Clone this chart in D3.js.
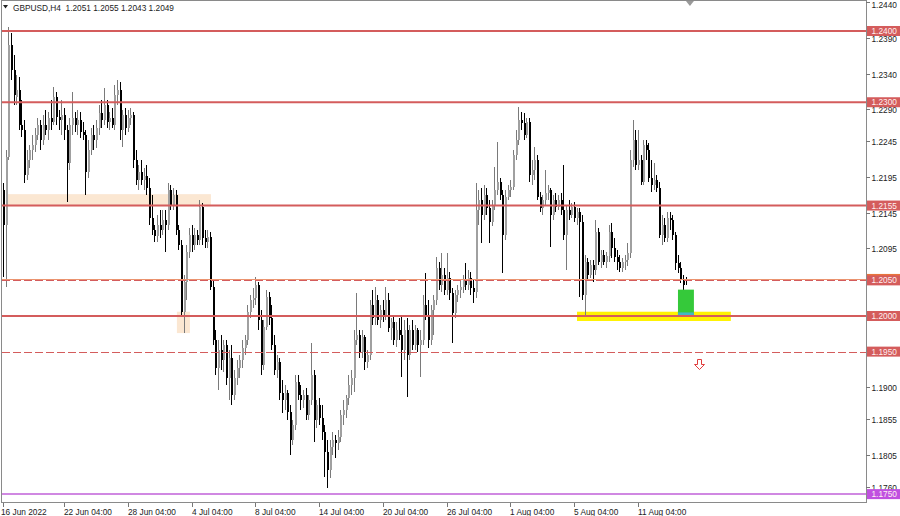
<!DOCTYPE html>
<html><head><meta charset="utf-8">
<script src="https://cdn.jsdelivr.net/npm/d3@7"></script>
<style>body{margin:0;background:#fff}svg{display:block}text{font-family:"Liberation Sans",Arial,sans-serif}</style>
</head><body><svg id="c" width="900" height="516"></svg>
<script>
const symbol = "GBPUSD,H4";
// H4 candles [open, high, low, close]
const ohlc = [
[1.2177,1.2187,1.2055,1.2128],[1.2128,1.2233,1.2041,1.2223],[1.2223,1.2406,1.2219,1.2380],[1.2380,1.2397,1.2331,1.2345],
[1.2345,1.2366,1.2296,1.2310],[1.2307,1.2338,1.2296,1.2317],[1.2317,1.2335,1.2261,1.2268],[1.2268,1.2303,1.2251,1.2261],
[1.2261,1.2275,1.2187,1.2198],[1.2198,1.2233,1.2191,1.2219],[1.2219,1.2240,1.2208,1.2233],[1.2233,1.2254,1.2219,1.2240],
[1.2240,1.2264,1.2230,1.2254],[1.2254,1.2278,1.2247,1.2268],[1.2268,1.2275,1.2233,1.2247],[1.2247,1.2282,1.2240,1.2268],
[1.2268,1.2289,1.2254,1.2261],[1.2261,1.2286,1.2247,1.2278],[1.2278,1.2303,1.2261,1.2272],[1.2272,1.2321,1.2268,1.2307],
[1.2307,1.2314,1.2268,1.2279],[1.2279,1.2289,1.2261,1.2275],[1.2275,1.2303,1.2254,1.2282],[1.2282,1.2292,1.2247,1.2261],
[1.2261,1.2268,1.2160,1.2215],[1.2215,1.2278,1.2205,1.2268],[1.2268,1.2314,1.2254,1.2278],[1.2278,1.2286,1.2258,1.2268],
[1.2268,1.2289,1.2254,1.2275],[1.2275,1.2286,1.2250,1.2258],[1.2258,1.2272,1.2247,1.2254],[1.2254,1.2261,1.2170,1.2202],
[1.2202,1.2247,1.2194,1.2233],[1.2233,1.2264,1.2226,1.2254],[1.2254,1.2268,1.2233,1.2247],[1.2247,1.2275,1.2236,1.2264],
[1.2264,1.2296,1.2254,1.2285],[1.2285,1.2303,1.2264,1.2275],[1.2275,1.2320,1.2268,1.2296],[1.2296,1.2303,1.2264,1.2272],
[1.2272,1.2286,1.2261,1.2278],[1.2278,1.2292,1.2264,1.2268],[1.2268,1.2324,1.2261,1.2310],[1.2310,1.2331,1.2296,1.2317],
[1.2317,1.2328,1.2247,1.2261],[1.2261,1.2289,1.2237,1.2282],[1.2282,1.2292,1.2254,1.2264],[1.2264,1.2289,1.2258,1.2278],
[1.2278,1.2292,1.2268,1.2282],[1.2282,1.2286,1.2208,1.2219],[1.2219,1.2233,1.2184,1.2191],[1.2191,1.2212,1.2177,1.2202],
[1.2202,1.2219,1.2184,1.2191],[1.2191,1.2208,1.2177,1.2197],[1.2197,1.2212,1.2170,1.2180],[1.2180,1.2194,1.2128,1.2138],
[1.2138,1.2170,1.2114,1.2121],[1.2121,1.2128,1.2104,1.2112],[1.2112,1.2142,1.2104,1.2128],[1.2128,1.2149,1.2110,1.2121],
[1.2121,1.2149,1.2114,1.2135],[1.2135,1.2149,1.2090,1.2128],[1.2128,1.2187,1.2121,1.2177],[1.2177,1.2184,1.2149,1.2156],
[1.2156,1.2180,1.2149,1.2170],[1.2170,1.2177,1.2114,1.2121],[1.2121,1.2128,1.2093,1.2100],[1.2100,1.2107,1.2001,1.2006],
[1.2006,1.2058,1.1976,1.2048],[1.2048,1.2100,1.2022,1.2090],[1.2090,1.2124,1.2081,1.2114],[1.2114,1.2128,1.2090,1.2100],
[1.2100,1.2124,1.2093,1.2114],[1.2114,1.2121,1.2100,1.2107],[1.2107,1.2163,1.2100,1.2153],[1.2153,1.2159,1.2100,1.2110],
[1.2110,1.2121,1.2095,1.2104],[1.2104,1.2121,1.2095,1.2111],[1.2111,1.2118,1.2036,1.2041],[1.2041,1.2050,1.1959,1.1966],
[1.1966,1.1980,1.1917,1.1927],[1.1927,1.1966,1.1896,1.1952],[1.1952,1.1973,1.1924,1.1938],[1.1938,1.1966,1.1921,1.1959],
[1.1959,1.1966,1.1903,1.1913],[1.1913,1.1952,1.1882,1.1941],[1.1941,1.1959,1.1875,1.1889],[1.1889,1.1924,1.1882,1.1913],
[1.1913,1.1938,1.1903,1.1927],[1.1927,1.1945,1.1913,1.1938],[1.1938,1.1966,1.1927,1.1955],[1.1955,1.1973,1.1945,1.1966],
[1.1966,1.2015,1.1959,1.2006],[1.2006,1.2030,1.1997,1.2022],[1.2022,1.2039,1.2011,1.2025],[1.2025,1.2055,1.2015,1.2044],
[1.2044,1.2048,1.1980,1.1994],[1.1994,1.2008,1.1917,1.1931],[1.1931,1.1994,1.1924,1.1985],[1.1985,1.2036,1.1980,1.2027],
[1.2027,1.2034,1.1987,1.1997],[1.1997,1.2015,1.1952,1.1959],[1.1959,1.1973,1.1917,1.1924],[1.1924,1.1945,1.1913,1.1935],
[1.1935,1.1941,1.1882,1.1892],[1.1892,1.1910,1.1864,1.1882],[1.1882,1.1903,1.1868,1.1892],[1.1892,1.1896,1.1854,1.1865],
[1.1865,1.1875,1.1805,1.1826],[1.1826,1.1854,1.1819,1.1847],[1.1847,1.1917,1.1840,1.1907],[1.1907,1.1917,1.1882,1.1889],
[1.1889,1.1903,1.1868,1.1882],[1.1882,1.1896,1.1871,1.1889],[1.1889,1.1899,1.1854,1.1861],[1.1861,1.1889,1.1854,1.1882],
[1.1882,1.1962,1.1875,1.1917],[1.1917,1.1924,1.1823,1.1854],[1.1854,1.1882,1.1843,1.1875],[1.1875,1.1885,1.1847,1.1857],
[1.1857,1.1875,1.1826,1.1837],[1.1837,1.1847,1.1774,1.1809],[1.1809,1.1826,1.1759,1.1784],[1.1784,1.1826,1.1773,1.1816],
[1.1816,1.1837,1.1805,1.1826],[1.1826,1.1833,1.1801,1.1822],[1.1822,1.1840,1.1812,1.1830],[1.1830,1.1868,1.1823,1.1861],
[1.1861,1.1882,1.1847,1.1868],[1.1868,1.1889,1.1857,1.1885],[1.1885,1.1917,1.1875,1.1903],[1.1903,1.1924,1.1889,1.1913],
[1.1913,1.1980,1.1893,1.1966],[1.1966,1.2032,1.1959,1.1973],[1.1973,1.1980,1.1941,1.1950],[1.1950,1.1980,1.1941,1.1970],
[1.1970,1.1973,1.1924,1.1935],[1.1935,1.1952,1.1927,1.1945],[1.1945,1.2022,1.1938,1.2015],[1.2015,1.2036,1.1987,1.1997],
[1.1997,1.2041,1.1987,1.2022],[1.2022,1.2030,1.1987,1.1994],[1.1994,1.2015,1.1983,1.2008],[1.2008,1.2022,1.1992,1.2001],
[1.2001,1.2041,1.1994,1.2022],[1.2022,1.2032,1.1978,1.1983],[1.1983,1.1997,1.1966,1.1992],[1.1992,1.2001,1.1959,1.1966],
[1.1966,1.1992,1.1956,1.1980],[1.1980,1.1997,1.1966,1.1973],[1.1973,1.1999,1.1914,1.1952],[1.1952,1.1994,1.1938,1.1980],
[1.1980,1.1997,1.1886,1.1945],[1.1945,1.1987,1.1938,1.1980],[1.1980,1.1994,1.1952,1.1959],[1.1959,1.1987,1.1952,1.1980],
[1.1980,1.1983,1.1950,1.1959],[1.1959,1.1980,1.1914,1.1966],[1.1966,1.2030,1.1959,1.2015],[1.2015,1.2060,1.1994,1.2001],
[1.2001,1.2022,1.1955,1.1966],[1.1966,1.2015,1.1959,1.2008],[1.2008,1.2030,1.1973,1.2022],[1.2022,1.2083,1.2015,1.2067],
[1.2067,1.2076,1.2036,1.2044],[1.2044,1.2088,1.2034,1.2058],[1.2058,1.2067,1.2030,1.2036],[1.2036,1.2088,1.2030,1.2053],
[1.2053,1.2062,1.2022,1.2032],[1.2032,1.2039,1.1962,1.2004],[1.2004,1.2036,1.1997,1.2030],[1.2030,1.2044,1.2020,1.2036],
[1.2036,1.2050,1.2025,1.2041],[1.2041,1.2058,1.2032,1.2050],[1.2050,1.2074,1.2036,1.2044],[1.2044,1.2065,1.2036,1.2053],
[1.2053,1.2062,1.2030,1.2039],[1.2039,1.2050,1.2018,1.2034],[1.2034,1.2187,1.2025,1.2149],[1.2149,1.2177,1.2128,1.2163],
[1.2163,1.2180,1.2102,1.2142],[1.2142,1.2184,1.2135,1.2170],[1.2170,1.2180,1.2142,1.2152],[1.2152,1.2163,1.2102,1.2132],
[1.2132,1.2163,1.2126,1.2156],[1.2156,1.2209,1.2149,1.2177],[1.2177,1.2244,1.2170,1.2188],[1.2188,1.2194,1.2163,1.2170],
[1.2170,1.2177,1.2060,1.2114],[1.2114,1.2177,1.2107,1.2167],[1.2167,1.2184,1.2163,1.2177],[1.2177,1.2191,1.2167,1.2181],
[1.2181,1.2233,1.2177,1.2226],[1.2226,1.2261,1.2219,1.2247],[1.2247,1.2293,1.2240,1.2275],[1.2275,1.2286,1.2261,1.2271],
[1.2271,1.2285,1.2247,1.2254],[1.2254,1.2278,1.2250,1.2272],[1.2272,1.2278,1.2188,1.2198],[1.2198,1.2219,1.2184,1.2205],
[1.2205,1.2237,1.2191,1.2219],[1.2219,1.2226,1.2163,1.2167],[1.2167,1.2174,1.2146,1.2152],[1.2152,1.2170,1.2142,1.2163],
[1.2163,1.2205,1.2156,1.2173],[1.2173,1.2184,1.2163,1.2177],[1.2177,1.2180,1.2097,1.2142],[1.2142,1.2170,1.2135,1.2163],
[1.2163,1.2173,1.2146,1.2153],[1.2153,1.2170,1.2149,1.2163],[1.2163,1.2173,1.2142,1.2149],[1.2149,1.2212,1.2107,1.2114],
[1.2114,1.2156,1.2065,1.2149],[1.2149,1.2163,1.2135,1.2142],[1.2142,1.2159,1.2138,1.2153],[1.2153,1.2160,1.2132,1.2138],
[1.2138,1.2152,1.2128,1.2146],[1.2146,1.2152,1.2027,1.2132],[1.2132,1.2142,1.2022,1.2030],[1.2030,1.2086,1.2001,1.2076],
[1.2076,1.2081,1.2050,1.2058],[1.2058,1.2079,1.2053,1.2072],[1.2072,1.2079,1.2048,1.2065],[1.2065,1.2135,1.2058,1.2118],
[1.2118,1.2124,1.2072,1.2076],[1.2076,1.2093,1.2067,1.2086],[1.2086,1.2093,1.2072,1.2076],[1.2076,1.2090,1.2067,1.2084],
[1.2084,1.2128,1.2076,1.2118],[1.2118,1.2131,1.2081,1.2095],[1.2095,1.2110,1.2076,1.2083],[1.2083,1.2093,1.2065,1.2076],
[1.2076,1.2086,1.2062,1.2067],[1.2067,1.2081,1.2062,1.2076],[1.2076,1.2086,1.2065,1.2079],[1.2079,1.2102,1.2070,1.2088],
[1.2088,1.2233,1.2081,1.2219],[1.2219,1.2275,1.2209,1.2247],[1.2247,1.2261,1.2205,1.2212],[1.2212,1.2261,1.2205,1.2219],
[1.2219,1.2226,1.2184,1.2188],[1.2188,1.2247,1.2184,1.2240],[1.2240,1.2247,1.2219,1.2233],[1.2233,1.2243,1.2188,1.2194],
[1.2194,1.2219,1.2174,1.2184],[1.2184,1.2215,1.2177,1.2191],[1.2191,1.2198,1.2174,1.2180],[1.2180,1.2188,1.2110,1.2114],
[1.2114,1.2142,1.2100,1.2128],[1.2128,1.2138,1.2104,1.2110],[1.2110,1.2146,1.2104,1.2138],[1.2138,1.2146,1.2121,1.2135],
[1.2135,1.2142,1.2107,1.2114],[1.2114,1.2118,1.2065,1.2074],[1.2074,1.2086,1.2060,1.2067],[1.2067,1.2076,1.2046,1.2050],
[1.2050,1.2058,1.2034,1.2044],[1.2051,1.2055,1.2043,1.2049]
];
const priceTicks = [1.2440,1.2390,1.2340,1.2290,1.2245,1.2195,1.2145,1.2095,1.1900,1.1855,1.1805,1.1760];
const timeTickBars = [0,23,47,71,95,119,143,167,191,215,239];
const timeTickLabels = ["16 Jun 2022","22 Jun 04:00","28 Jun 04:00","4 Jul 04:00","8 Jul 04:00","14 Jul 04:00","20 Jul 04:00","26 Jul 04:00","1 Aug 04:00","5 Aug 04:00","11 Aug 04:00"];
const solidLevels = [1.2400,1.2300,1.2155,1.2000];
const dashedLevels = [1.2050,1.1950];
const bidLevel = 1.2052;
const floorLevel = 1.1750;
// zones: [fromBar, toBar, lowPrice, highPrice]
const beigeZones = [[1.9,78.3,1.2154,1.2171],[65.5,70.4,1.1976,1.2006]];
const yellowZone = [216.1,274.0,1.1993,1.2006];
const greenZone = [254.1,260.1,1.2000,1.2037];
const cyanZone = [254.1,260.1,1.2000,1.2005];
const arrowAt = [262, 1.1940];
const shiftBar = 258.6;

const svg = d3.select("#c");
const x = d3.scaleLinear().domain([-1.09, 324.5]).range([0, 865]);
const y = d3.scaleLinear().domain([1.173894, 1.24435]).range([502, 0]);
const fmt = d3.format(".4f");
const RED = "#d45c5c";

svg.append("defs").append("clipPath").attr("id","clip").append("rect")
  .attr("x",2).attr("y",1).attr("width",864).attr("height",501);
const plot = svg.append("g").attr("clip-path","url(#clip)");

function zone(z, fill){
  plot.append("rect").attr("x",x(z[0])).attr("width",x(z[1])-x(z[0]))
    .attr("y",y(z[3])).attr("height",y(z[2])-y(z[3])).attr("fill",fill);
}
beigeZones.forEach(z=>zone(z,"#fbe7d2"));
zone(yellowZone,"#fff200");

// candles
const cg = plot.append("g");
ohlc.forEach((d,i)=>{
  const [o,h,l,c] = d;
  const up = c >= o;
  const cx = Math.round(x(i));
  const yh = Math.round(y(h)), yl = Math.round(y(l));
  cg.append("rect").attr("x",cx).attr("width",1).attr("y",yh).attr("height",Math.max(1,yl-yh))
    .attr("fill", up ? "#7a7a7a" : "#000");
  const yt = Math.round(y(Math.max(o,c))), yb = Math.round(y(Math.min(o,c)));
  cg.append("rect").attr("x",cx).attr("width",2).attr("y",yt).attr("height",Math.max(1,yb-yt))
    .attr("fill", up ? "#a0a0a0" : "#000");
});

zone(greenZone,"#35c93a");
zone(cyanZone,"#3fb8c4");

// levels
solidLevels.forEach(v=>{
  plot.append("line").attr("x1",2).attr("x2",866).attr("y1",y(v)).attr("y2",y(v))
    .attr("stroke",RED).attr("stroke-width",2);
});
plot.append("line").attr("x1",2).attr("x2",866).attr("y1",Math.round(y(bidLevel))+0.5).attr("y2",Math.round(y(bidLevel))+0.5)
  .attr("stroke","#eb9470").attr("stroke-width",1);
dashedLevels.forEach(v=>{
  plot.append("line").attr("x1",2).attr("x2",866).attr("y1",Math.round(y(v))+0.5).attr("y2",Math.round(y(v))+0.5)
    .attr("stroke",RED).attr("stroke-width",1).attr("stroke-dasharray","8,3");
});
plot.append("line").attr("x1",2).attr("x2",866).attr("y1",y(floorLevel)).attr("y2",y(floorLevel))
  .attr("stroke","#c060d8").attr("stroke-width",1.5);

// down arrow marker
{
  const ax = Math.round(x(arrowAt[0]))+0.5, ay = Math.round(y(arrowAt[1]))+0.5;
  svg.append("path").attr("d",`M${ax-2},${ay} h4 v5 h3 l-5,5 l-5,-5 h3 z`)
    .attr("fill","#fff").attr("stroke","#e03c3c").attr("stroke-width",1);
}

// frame
svg.append("rect").attr("x",1.5).attr("y",0.5).attr("width",865).attr("height",502)
  .attr("fill","none").attr("stroke","#8a8a8a");
// chart shift marker
{
  const sx = x(shiftBar);
  svg.append("path").attr("d",`M${sx-4},1 L${sx+4},1 L${sx},6 Z`).attr("fill","#9a9a9a");
}

// right price axis
const ax = svg.append("g");
priceTicks.forEach(v=>{
  const yy = Math.round(y(v))+0.5;
  ax.append("line").attr("x1",866).attr("x2",870).attr("y1",yy).attr("y2",yy).attr("stroke","#777");
  ax.append("text").attr("x",871.5).attr("y",Math.max(yy+3,8)).attr("font-size",8.3).attr("fill","#222").text(fmt(v));
});
function priceLabel(v, bg){
  const yy = y(v);
  ax.append("rect").attr("x",867).attr("y",yy-5).attr("width",33).attr("height",10).attr("fill",bg);
  ax.append("text").attr("x",871.5).attr("y",yy+3).attr("font-size",8.3).attr("fill","#fff0f0").text(fmt(v));
}
priceLabel(solidLevels[0],RED);
priceLabel(solidLevels[1],RED);
priceLabel(solidLevels[2],RED);
{
  const yy = y(bidLevel);
  ax.append("rect").attr("x",867).attr("y",yy-5).attr("width",33).attr("height",10).attr("fill","#e8743c");
}
priceLabel(dashedLevels[0],RED);
priceLabel(solidLevels[3],RED);
priceLabel(dashedLevels[1],RED);
priceLabel(floorLevel,"#c050e0");

// time axis
timeTickBars.forEach((b,k)=>{
  const xx = Math.round(x(b))+0.5;
  ax.append("line").attr("x1",xx).attr("x2",xx).attr("y1",503).attr("y2",507).attr("stroke","#777");
  ax.append("text").attr("x",k===0?1:xx-0.5).attr("y",514.5).attr("font-size",8.3).attr("fill","#222").text(timeTickLabels[k]);
});

// header
const last = ohlc[ohlc.length-1];
svg.append("path").attr("d","M3,5 L8,5 L5.5,8.5 Z").attr("fill","#222");
svg.append("text").attr("x",13).attr("y",11).attr("font-size",8.3).attr("fill","#222")
  .attr("xml:space","preserve").style("white-space","pre")
  .text(symbol + "  " + last.map(fmt).join(" "));
</script></body></html>
